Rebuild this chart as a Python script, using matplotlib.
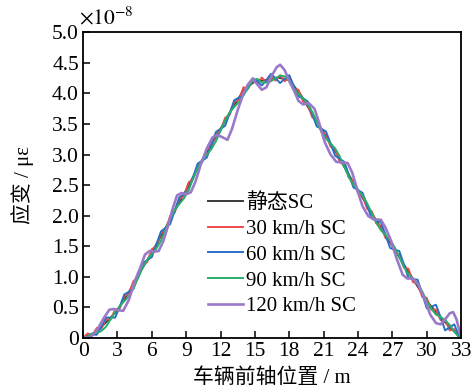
import numpy as np
import matplotlib
matplotlib.use('Agg')
import matplotlib.pyplot as plt

plt.rcParams['font.family'] = ['Liberation Serif', 'Noto Sans CJK SC']
plt.rcParams['mathtext.fontset'] = 'stix'

# static influence line (1 m step)
x_static = np.arange(0, 34, 1.0)
y_static = [0, 0.08, 0.25, 0.45, 0.75, 1.08, 1.40, 1.73, 2.08, 2.42, 2.77,
            3.10, 3.42, 3.75, 4.05, 4.20, 4.22, 4.26, 4.22, 3.98, 3.66,
            3.36, 3.06, 2.73, 2.42, 2.10, 1.80, 1.50, 1.20, 0.90, 0.60,
            0.38, 0.17, 0.0]

# dynamic responses (0.4 m step, last point at 33 m)
x_dyn = list(np.round(np.arange(0, 33, 0.4), 1)) + [33.0]

y_30 = [0.0, 0.07, 0.04, 0.16, 0.15, 0.30, 0.30, 0.46, 0.48, 0.68,
        0.72, 0.93, 0.98, 1.19, 1.24, 1.45, 1.50, 1.71, 1.77, 1.99,
        2.05, 2.27, 2.32, 2.54, 2.60, 2.82, 2.87, 3.08, 3.13, 3.34,
        3.39, 3.60, 3.65, 3.86, 3.90, 4.10, 4.08, 4.22, 4.16, 4.26,
        4.18, 4.29, 4.21, 4.30, 4.20, 4.26, 4.08, 4.06, 3.87, 3.82,
        3.61, 3.57, 3.37, 3.33, 3.13, 3.09, 2.88, 2.83, 2.62, 2.57,
        2.37, 2.32, 2.11, 2.07, 1.87, 1.83, 1.63, 1.60, 1.39, 1.36,
        1.15, 1.13, 0.91, 0.89, 0.67, 0.65, 0.46, 0.46, 0.29, 0.30,
        0.12, 0.14, 0.01, 0.0]

y_60 = [0.0, 0.0, 0.05, 0.05, 0.18, 0.33, 0.33, 0.33, 0.51, 0.71,
        0.75, 0.80, 1.01, 1.22, 1.27, 1.32, 1.53, 1.74, 1.80, 1.86,
        2.08, 2.30, 2.35, 2.41, 2.63, 2.85, 2.90, 2.95, 3.16, 3.37,
        3.42, 3.47, 3.68, 3.89, 3.93, 3.97, 4.11, 4.25, 4.20, 4.13,
        4.22, 4.32, 4.25, 4.17, 4.24, 4.30, 4.12, 3.95, 3.92, 3.87,
        3.66, 3.46, 3.42, 3.38, 3.18, 2.98, 2.93, 2.88, 2.67, 2.46,
        2.42, 2.37, 2.16, 1.95, 1.92, 1.89, 1.68, 1.47, 1.44, 1.42,
        1.20, 0.98, 0.96, 0.95, 0.72, 0.48, 0.51, 0.54, 0.34, 0.12,
        0.17, 0.22, 0.03, 0.0]

y_90 = [0.0, 0.02, 0.07, 0.08, 0.11, 0.18, 0.30, 0.42, 0.52, 0.60,
        0.68, 0.81, 0.98, 1.15, 1.28, 1.37, 1.46, 1.59, 1.77, 1.95,
        2.09, 2.19, 2.28, 2.42, 2.60, 2.78, 2.91, 3.00, 3.09, 3.22,
        3.39, 3.56, 3.69, 3.78, 3.86, 3.98, 4.08, 4.21, 4.24, 4.18,
        4.18, 4.20, 4.25, 4.29, 4.28, 4.22, 4.08, 3.99, 3.92, 3.83,
        3.70, 3.54, 3.38, 3.26, 3.18, 3.10, 2.97, 2.80, 2.63, 2.50,
        2.42, 2.33, 2.20, 2.04, 1.88, 1.76, 1.68, 1.60, 1.48, 1.32,
        1.16, 1.04, 0.96, 0.88, 0.76, 0.60, 0.47, 0.38, 0.34, 0.29,
        0.21, 0.10, 0.01, 0.0]

x_120 = [0.0, 0.6, 1.2, 1.8, 2.3, 2.7, 3.1, 3.5, 4.0, 4.5, 5.0, 5.4, 5.8,
         6.2, 6.6, 7.0, 7.4, 7.8, 8.2, 8.6, 9.0, 9.4, 9.8, 10.3, 10.8,
         11.3, 11.7, 12.2, 12.6, 13.0, 13.5, 14.0, 14.4, 14.8, 15.2, 15.6,
         16.0, 16.5, 16.9, 17.2, 17.6, 18.0, 18.4, 18.8, 19.2, 19.7, 20.2,
         20.6, 21.1, 21.6, 22.1, 22.6, 23.1, 23.5, 24.0, 24.4, 24.9, 25.4,
         26.0, 26.4, 26.9, 27.4, 27.9, 28.3, 28.8, 29.3, 29.8, 30.3, 30.8,
         31.2, 31.6, 32.0, 32.3, 32.6, 33.0]
y_120 = [0.0, 0.0, 0.12, 0.32, 0.46, 0.47, 0.45, 0.44, 0.62, 0.92, 1.15,
         1.36, 1.42, 1.41, 1.42, 1.58, 1.82, 2.10, 2.33, 2.37, 2.35, 2.38,
         2.55, 2.85, 3.10, 3.28, 3.32, 3.28, 3.24, 3.42, 3.73, 4.00, 4.15,
         4.24, 4.15, 4.06, 4.10, 4.30, 4.43, 4.47, 4.38, 4.20, 4.05, 3.88,
         3.82, 3.84, 3.75, 3.52, 3.20, 3.00, 2.88, 2.87, 2.86, 2.70, 2.38,
         2.15, 1.99, 1.94, 1.93, 1.80, 1.58, 1.28, 1.03, 0.97, 0.97, 0.86,
         0.64, 0.38, 0.24, 0.22, 0.30, 0.40, 0.42, 0.30, 0.0]

labels = ['静态SC', '30 km/h SC', '60 km/h SC', '90 km/h SC', '120 km/h SC']

fig = plt.figure(figsize=(4.72, 3.9), dpi=100)
ax = fig.add_axes([0.176, 0.134, 0.801, 0.783])

ax.plot(x_static, y_static, color='#3a3a3a', lw=1.4, label=labels[0])
ax.plot(x_dyn, y_30, color='#ee4b4b', lw=1.4, label=labels[1])
ax.plot(x_dyn, y_60, color='#2a6fc4', lw=1.4, label=labels[2])
ax.plot(x_dyn, y_90, color='#25b06a', lw=1.4, label=labels[3])
ax.plot(x_120, y_120, color='#9a7ac8', lw=1.9, label=labels[4])

ax.set_xlim(0, 33)
ax.set_ylim(0, 5.0)
ax.set_xticks(np.arange(0, 34, 3))
yt = np.arange(0, 5.01, 0.5)
ax.set_yticks(yt)
ax.set_yticklabels(['0'] + [f'{v:.1f}' for v in yt[1:]])
ax.tick_params(direction='in', length=5, width=1.1, labelsize=15.5, pad=3)
for s in ax.spines.values():
    s.set_linewidth(1.3)

ax.set_xlabel('车辆前轴位置 / m', fontsize=15, labelpad=5)
ax.set_ylabel('应变 / με', fontsize=15, labelpad=13)
ax.text(-0.01, 1.01, r'$\times10^{-8}$', transform=ax.transAxes, fontsize=15.5,
        ha='left', va='bottom')

ax.legend(loc='lower left', bbox_to_anchor=(0.33, 0.07), frameon=False,
          fontsize=15, handlelength=1.7, handletextpad=0.15, labelspacing=0.3,
          borderpad=0, borderaxespad=0)

fig.savefig('out.png', dpi=100)
